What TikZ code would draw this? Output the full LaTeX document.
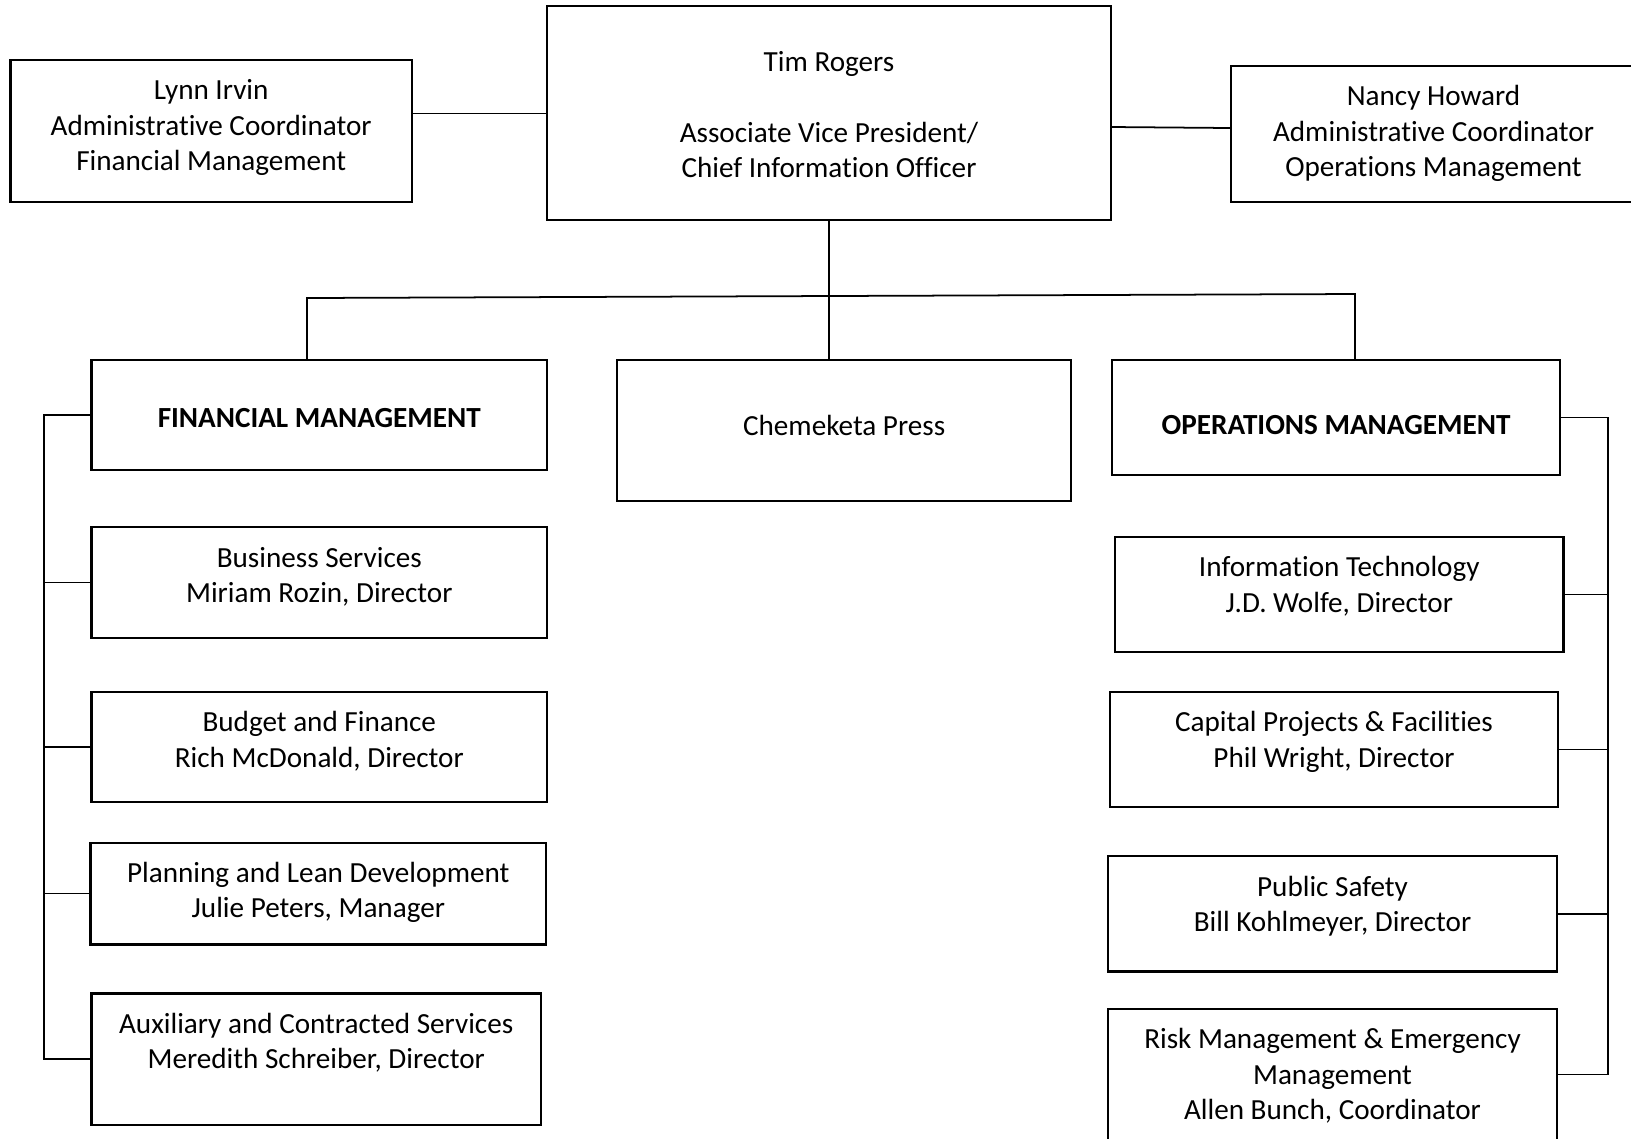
\documentclass[tikz,border=0pt]{standalone}
\usepackage{fontspec}
\setmainfont{Carlito}[Ligatures=NoCommon]
\tikzset{
  unit/.style={draw,line width=0.6pt,inner sep=0pt},
  caption/.style={anchor=north,align=center,inner sep=0pt,yshift=-2mm},
  link/.style={line width=0.5pt},
}

\begin{document}
\begin{tikzpicture}[x=0.1mm,y=-0.1mm,font=\fontsize{8.3}{10.1}\selectfont]
\clip (0,0) rectangle (1631,1138);
% top row
\node[unit,minimum width=56.4mm,minimum height=21.4mm,
  label={[caption,yshift=-2.5mm]north:Tim Rogers\\[10.1pt]Associate Vice President/\\Chief Information Officer}]
  (tim) at (829,113.4) {};
\node[unit,minimum width=40.15mm,minimum height=14.15mm,
  label={[caption]north:Lynn Irvin\\Administrative Coordinator\\Financial Management}]
  (lynn) at (211.2,131) {};
\node[unit,minimum width=40.5mm,minimum height=13.6mm,
  label={[caption]north:Nancy Howard\\Administrative Coordinator\\Operations Management}]
  (nancy) at (1433.5,134) {};
% second row
\node[unit,minimum width=45.56mm,minimum height=11.03mm,
  label={[caption,yshift=-2.9mm]north:\textbf{FINANCIAL MANAGEMENT}}]
  (fm) at (319.3,415) {};
\node[unit,minimum width=45.46mm,minimum height=14.15mm,
  label={[caption,yshift=-3.55mm]north:Chemeketa Press}]
  (press) at (844.1,430.6) {};
\node[unit,minimum width=44.83mm,minimum height=11.55mm,
  label={[caption,yshift=-3.6mm]north:\textbf{OPERATIONS MANAGEMENT}}]
  (om) at (1336.1,417.6) {};
% financial side
\node[unit,minimum width=45.56mm,minimum height=11.02mm,
  label={[caption]north:Business Services\\Miriam Rozin, Director}]
  (bs) at (319.3,582.5) {};
\node[unit,minimum width=45.56mm,minimum height=11.03mm,
  label={[caption]north:Budget and Finance\\Rich McDonald, Director}]
  (bf) at (319.3,746.9) {};
\node[unit,minimum width=45.56mm,minimum height=10.19mm,
  label={[caption]north:Planning and Lean Development\\Julie Peters, Manager}]
  (plan) at (318.3,893.5) {};
\node[unit,minimum width=44.94mm,minimum height=13.11mm,
  label={[caption]north:Auxiliary and Contracted Services\\Meredith Schreiber, Director}]
  (aux) at (316.2,1059) {};
% operations side
\node[unit,minimum width=44.83mm,minimum height=11.55mm,
  label={[caption]north:Information Technology\\J.D. Wolfe, Director}]
  (it) at (1339.3,594.5) {};
\node[unit,minimum width=44.83mm,minimum height=11.55mm,
  label={[caption]north:Capital Projects \& Facilities\\Phil Wright, Director}]
  (cap) at (1334,749.5) {};
\node[unit,minimum width=44.94mm,minimum height=11.54mm,
  label={[caption]north:Public Safety\\Bill Kohlmeyer, Director}]
  (ps) at (1332.5,913.8) {};
\node[unit,minimum width=44.94mm,minimum height=13.1mm,
  label={[caption]north:Risk Management \& Emergency\\Management\\Allen Bunch, Coordinator}]
  (risk) at (1332.5,1074.5) {};
% connectors at the top
\draw[link] (tim.west) -- (tim.west -| lynn.east);
\draw[link] ([yshift=-1.36mm]tim.east) -- ([yshift=0.6mm]nancy.west);
\draw[link] (tim.south) -- (tim.south |- press.north);
\coordinate (busl) at (307,298);
\coordinate (busr) at (1355,294);
\draw[link] (fm.north -| busl) -- (busl) -- (busr) -- (om.north -| busr);
% left bus
\coordinate (lbus) at (44,0);
\draw[link] (fm.west) -- (fm.west -| lbus) -- (aux.west -| lbus) -- (aux.west);
\draw[link] (bs.west) -- (bs.west -| lbus);
\draw[link] (bf.west) -- (bf.west -| lbus);
\draw[link] (plan.west) -- (plan.west -| lbus);
% right bus
\coordinate (rbus) at (1608,0);
\draw[link] (om.east) -- (om.east -| rbus) -- (risk.east -| rbus) -- (risk.east);
\draw[link] (it.east) -- (it.east -| rbus);
\draw[link] (cap.east) -- (cap.east -| rbus);
\draw[link] (ps.east) -- (ps.east -| rbus);
\end{tikzpicture}
\end{document}
